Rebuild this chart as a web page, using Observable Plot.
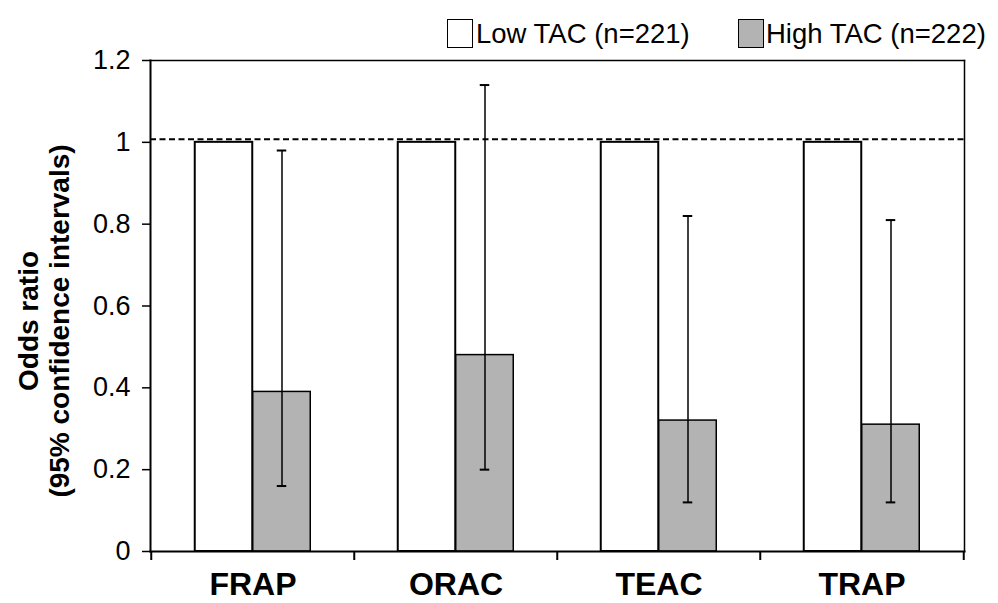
<!DOCTYPE html>
<html><head><meta charset="utf-8">
<script src="https://cdn.jsdelivr.net/npm/d3@7"></script>
<script src="https://cdn.jsdelivr.net/npm/@observablehq/plot@0.6"></script>
<style>
body{margin:0;background:#fff;}
#wrap{position:relative;width:998px;height:603px;font-family:"Liberation Sans",Arial,sans-serif;color:#000;}
#chart{position:absolute;left:0;top:0;}
.lg{position:absolute;font-size:27.5px;line-height:30px;white-space:nowrap;}
.sw{position:absolute;width:26px;height:29px;border:1.5px solid #000;box-sizing:border-box;}
</style></head><body>
<div id="wrap"><div id="chart"></div><div id="legend"></div></div>
<script>
const categories = ["FRAP", "ORAC", "TEAC", "TRAP"];
const groups = ["Low TAC (n=221)", "High TAC (n=222)"];
const groupColors = ["#ffffff", "#b3b3b3"];
const lowValues = [1, 1, 1, 1];
const highValues = [0.39, 0.48, 0.32, 0.31];
const highLower = [0.16, 0.20, 0.12, 0.12];
const highUpper = [0.98, 1.14, 0.82, 0.81];
const yTicks = [0, 0.2, 0.4, 0.6, 0.8, 1, 1.2];
const yTickLabels = ["0", "0.2", "0.4", "0.6", "0.8", "1", "1.2"];
const referenceValue = 1;
const yTitle = ["Odds ratio", "(95% confidence intervals)"];

const W = 998, H = 603, mL = 150, mR = 34, mT = 60, mB = 52;
const bw = (W - mL - mR) / categories.length;
const barW = 58;
const outer = (bw - 2 * barW) / 2;

const lowRows = categories.map((c, i) => ({cat: c, value: lowValues[i]}));
const highRows = categories.map((c, i) => ({cat: c, value: highValues[i], lo: highLower[i], hi: highUpper[i]}));

const chart = Plot.plot({
  width: W, height: H,
  marginLeft: mL, marginRight: mR, marginTop: mT, marginBottom: mB,
  style: {fontFamily: '"Liberation Sans", Arial, sans-serif', color: "#000", background: "#fff", overflow: "visible"},
  x: {type: "band", domain: categories, paddingInner: 0, paddingOuter: 0, axis: null},
  y: {domain: [0, 1.2], axis: null},
  marks: [
    Plot.barY(lowRows, {x: "cat", y: "value", fill: groupColors[0], stroke: "#000", strokeWidth: 2, insetLeft: outer, insetRight: outer + barW}),
    Plot.barY(highRows, {x: "cat", y: "value", fill: groupColors[1], stroke: "#000", strokeWidth: 1.5, insetLeft: outer + barW, insetRight: outer}),
    Plot.ruleX(highRows, {x: "cat", y1: "lo", y2: "hi", dx: barW / 2, stroke: "#000", strokeWidth: 1.5}),
    Plot.tickY(highRows, {x: "cat", y: "hi", dx: barW / 2, insetLeft: bw / 2 - 5, insetRight: bw / 2 - 5, stroke: "#000", strokeWidth: 2}),
    Plot.tickY(highRows, {x: "cat", y: "lo", dx: barW / 2, insetLeft: bw / 2 - 5, insetRight: bw / 2 - 5, stroke: "#000", strokeWidth: 2}),
    Plot.ruleY([referenceValue], {stroke: "#000", strokeWidth: 2, strokeDasharray: "6,3.5", dy: -3, insetRight: -3}),
    Plot.frame({anchor: "top", stroke: "#000", strokeWidth: 1.5}),
    Plot.frame({anchor: "right", stroke: "#000", strokeWidth: 1.5}),
    Plot.frame({anchor: "left", stroke: "#000", strokeWidth: 2}),
    Plot.frame({anchor: "bottom", stroke: "#000", strokeWidth: 2}),
    Plot.ruleX(categories, {x: d => d, y1: 0, y2: 0, dx: -bw / 2, insetBottom: -9, stroke: "#000", strokeWidth: 2}),
    Plot.ruleX([categories[categories.length - 1]], {x: d => d, y1: 0, y2: 0, dx: bw / 2, insetBottom: -9, stroke: "#000", strokeWidth: 2}),
    Plot.axisY({ticks: yTicks, tickFormat: d => yTickLabels[yTicks.indexOf(d)], tickSize: 8, tickPadding: 12, fontSize: 27, label: null, strokeWidth: 1.5}),
    Plot.text(categories, {x: d => d, frameAnchor: "bottom", dy: 43, fontSize: 32, fontWeight: "bold", fill: "#000"}),
    Plot.text([yTitle[0]], {frameAnchor: "left", textAnchor: "middle", rotate: -90, dx: -121, dy: 15, fontSize: 28, fontWeight: "bold", fill: "#000"}),
    Plot.text([yTitle[1]], {frameAnchor: "left", textAnchor: "middle", rotate: -90, dx: -90, dy: 15, fontSize: 28, fontWeight: "bold", fill: "#000"})
  ]
});
document.getElementById("chart").appendChild(chart);

const legend = document.getElementById("legend");
const legendPos = [{box: 447, text: 476}, {box: 738, text: 766}];
groups.forEach((g, i) => {
  const sw = document.createElement("div");
  sw.className = "sw";
  sw.style.left = legendPos[i].box + "px";
  sw.style.top = "19px";
  sw.style.background = groupColors[i];
  legend.appendChild(sw);
  const t = document.createElement("div");
  t.className = "lg";
  t.style.left = legendPos[i].text + "px";
  t.style.top = "19px";
  t.textContent = g;
  legend.appendChild(t);
});
</script>
</body></html>
